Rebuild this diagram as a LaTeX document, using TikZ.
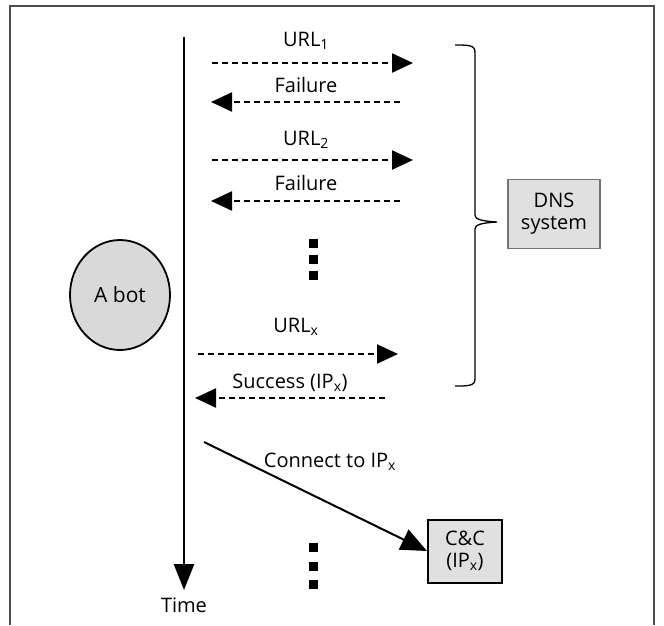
\documentclass[tikz,border=0pt]{standalone}
\usepackage{fontspec}
\setmainfont{Open Sans}
\usetikzlibrary{arrows.meta,shapes.geometric}
\begin{document}
\begin{tikzpicture}[x=1pt,y=-1pt,
  lbl/.style={font=\fontsize{20}{22}\selectfont, inner sep=0pt},
  msg/.style={line width=2.3pt, dash pattern=on 6pt off 4pt,
    -{Triangle[length=21pt,width=19pt]}},
  dot/.style={fill=black, minimum size=9pt, inner sep=0pt},
  graybox/.style={draw, fill=black!12, align=center, inner sep=0pt,
    font=\fontsize{20}{22}\selectfont}]
  \useasboundingbox (0,0) rectangle (664,625);
  % frame, open at the bottom
  \draw[line width=1.3pt, black!70] (10,625) -- (10,6) -- (654,6) -- (654,625);
  % time axis
  \coordinate (t0) at (184,37);
  \coordinate (t1) at (184,590);
  \draw[line width=2.8pt, -{Triangle[length=26pt,width=20pt]}] (t0) -- (t1);
  \node[lbl] (time) at (184,605) {Time};
  % the bot
  \node[draw, line width=1.8pt, fill=black!15, ellipse, minimum width=100pt,
    minimum height=110pt, inner sep=0pt, font=\fontsize{21}{23}\selectfont]
    (bot) at (120,295) {A bot};
  % DNS queries and replies
  \coordinate (q1a) at (212,63);  \coordinate (q1b) at (413,63);
  \coordinate (r1a) at (400,102); \coordinate (r1b) at (211,102);
  \coordinate (q2a) at (212,160); \coordinate (q2b) at (413,160);
  \coordinate (r2a) at (400,201); \coordinate (r2b) at (211,201);
  \coordinate (qxa) at (198,354); \coordinate (qxb) at (398,354);
  \coordinate (rxa) at (385,398); \coordinate (rxb) at (195,398);
  \draw[msg] (q1a) -- (q1b);
  \draw[msg] (r1a) -- (r1b);
  \draw[msg] (q2a) -- (q2b);
  \draw[msg] (r2a) -- (r2b);
  \draw[msg] (qxa) -- (qxb);
  \draw[msg] (rxa) -- (rxb);
  \node[lbl] (u1) at (306,41) {URL\textsubscript{1}};
  \node[lbl] (f1) at (306,85) {Failure};
  \node[lbl] (u2) at (306,140) {URL\textsubscript{2}};
  \node[lbl] (f2) at (306,183) {Failure};
  \node[lbl] (ux) at (296,327) {URL\textsubscript{x}};
  \node[lbl] (sx) at (290,383) {Success (IP\textsubscript{x})};
  % elided queries
  \node[dot] (d1) at (313,243) {};
  \node[dot] (d2) at (313,259) {};
  \node[dot] (d3) at (313,275) {};
  % brace grouping the DNS exchange
  \draw[line width=1.3pt] (455,45) .. controls (468,45) and (475,45) .. (475,52)
    -- (475,215) .. controls (475,219) and (480,221) .. (497,222)
    .. controls (480,223) and (475,225) .. (475,229)
    -- (475,379) .. controls (475,386) and (468,386) .. (455,386);
  \node[graybox, draw=black!55, line width=1.6pt, minimum width=92pt,
    minimum height=69pt] (dns) at (554,214) {DNS\\system};
  % connection to the command and control server
  \node[graybox, line width=2pt, minimum width=74pt, minimum height=63pt]
    (cc) at (465,551) {C\&C\\(IP\textsubscript{x})};
  \coordinate (c0) at (204,442);
  \draw[line width=2pt, -{Triangle[length=26pt,width=22pt]}] (c0) -- (cc.west);
  \node[lbl] (cl) at (330,462) {Connect to IP\textsubscript{x}};
  \node[dot] (e1) at (313,547) {};
  \node[dot] (e2) at (313,566) {};
  \node[dot] (e3) at (313,584) {};
\end{tikzpicture}
\end{document}
